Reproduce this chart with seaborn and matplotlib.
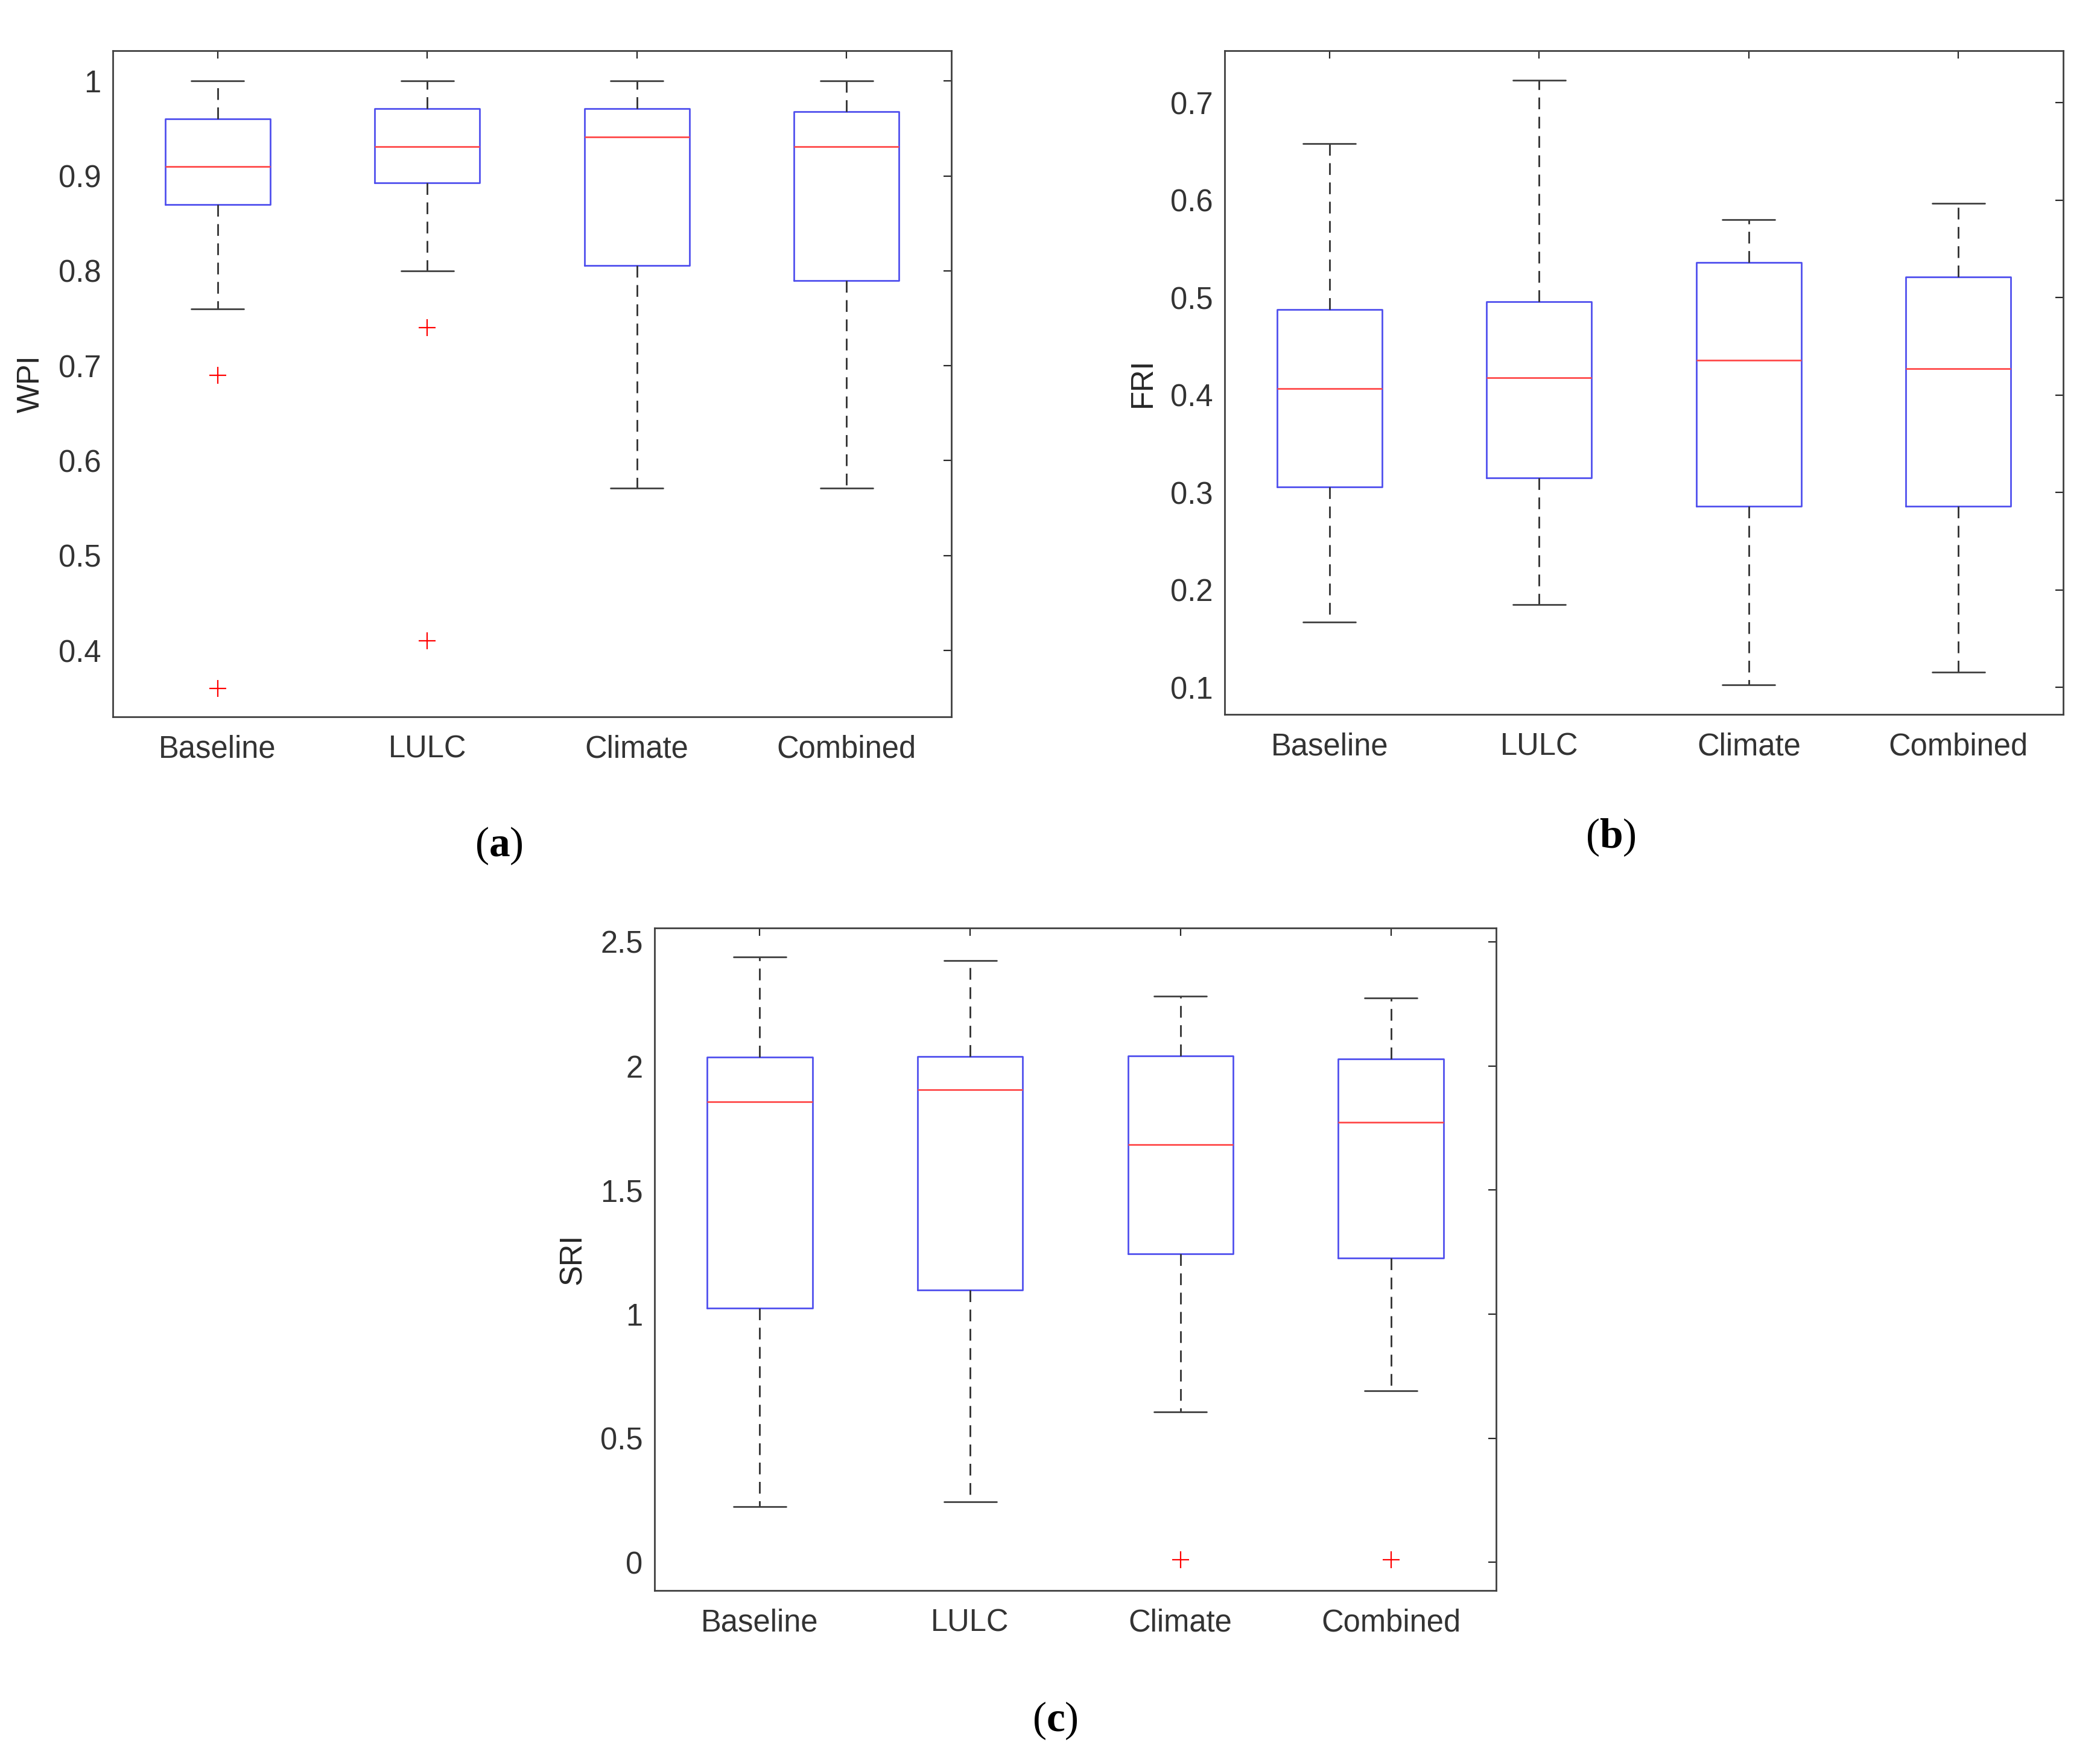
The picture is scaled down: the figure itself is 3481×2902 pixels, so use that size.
import pandas as pd
import matplotlib
matplotlib.use('Agg')
import matplotlib.pyplot as plt
import seaborn as sns

# Escenarios (eje x comun)
categories = ['Baseline', 'LULC', 'Climate', 'Combined']

# (a) WPI: bigote inferior, Q1, mediana, Q3, bigote superior, atipicos
wpi_low = [0.760, 0.800, 0.571, 0.571]
wpi_q1 = [0.870, 0.893, 0.806, 0.790]
wpi_med = [0.910, 0.931, 0.941, 0.931]
wpi_q3 = [0.960, 0.971, 0.971, 0.968]
wpi_high = [1.000, 1.000, 1.000, 1.000]
wpi_out = [[0.69, 0.36], [0.74, 0.41], [], []]

# (b) FRI
fri_low = [0.167, 0.185, 0.103, 0.116]
fri_q1 = [0.306, 0.315, 0.286, 0.286]
fri_med = [0.407, 0.418, 0.436, 0.427]
fri_q3 = [0.488, 0.496, 0.536, 0.521]
fri_high = [0.658, 0.723, 0.580, 0.597]
fri_out = [[], [], [], []]

# (c) SRI
sri_low = [0.224, 0.244, 0.605, 0.691]
sri_q1 = [1.025, 1.097, 1.242, 1.226]
sri_med = [1.855, 1.905, 1.684, 1.774]
sri_q3 = [2.036, 2.038, 2.041, 2.027]
sri_high = [2.439, 2.423, 2.281, 2.274]
sri_out = [[], [], [0.01], [0.01]]


def long_frame(low, q1, med, q3, high, out):
    # muestra minima que reproduce exactamente los cuartiles leidos
    rows = []
    for cat, lo, a, m, b, hi, o in zip(categories, low, q1, med, q3, high, out):
        vals = list(o) + [lo] + [a] * 5 + [m] * 5 + [b] * 5 + [hi]
        rows += [(cat, v) for v in vals]
    return pd.DataFrame(rows, columns=['scenario', 'value'])


sns.set_theme(style='white')
plt.rcParams['font.family'] = ['Liberation Sans', 'DejaVu Sans']
plt.rcParams['mathtext.fontset'] = 'custom'
plt.rcParams['mathtext.rm'] = 'Liberation Serif'
plt.rcParams['mathtext.bf'] = 'Liberation Serif:bold'

fig = plt.figure(figsize=(34.81, 29.02), dpi=100)

panels = [
    dict(rect=[0.0537, 0.5906, 0.3993, 0.3804],
         df=long_frame(wpi_low, wpi_q1, wpi_med, wpi_q3, wpi_high, wpi_out),
         ylabel='WPI', ylim=(0.33, 1.032),
         yticks=[0.4, 0.5, 0.6, 0.7, 0.8, 0.9, 1.0],
         tag='a', tagpos=(0.2376, 0.5169)),
    dict(rect=[0.5832, 0.5920, 0.3993, 0.3790],
         df=long_frame(fri_low, fri_q1, fri_med, fri_q3, fri_high, fri_out),
         ylabel='FRI', ylim=(0.0724, 0.7534),
         yticks=[0.1, 0.2, 0.3, 0.4, 0.5, 0.6, 0.7],
         tag='b', tagpos=(0.767, 0.5217)),
    dict(rect=[0.3117, 0.0917, 0.4007, 0.3784],
         df=long_frame(sri_low, sri_q1, sri_med, sri_q3, sri_high, sri_out),
         ylabel='SRI', ylim=(-0.113, 2.556),
         yticks=[0, 0.5, 1, 1.5, 2, 2.5],
         tag='c', tagpos=(0.5024, 0.0172)),
]

box_blue = '#5050ee'
dark = '#262626'

for p in panels:
    ax = fig.add_axes(p['rect'])
    sns.boxplot(data=p['df'], x='scenario', y='value', order=categories,
                ax=ax, width=0.5, fill=False, linewidth=2,
                boxprops=dict(color=box_blue, linewidth=2),
                medianprops=dict(color='#ff4a4a', linewidth=2),
                whiskerprops=dict(color='#303030', linewidth=2,
                                  linestyle=(0, (7, 4.5))),
                capprops=dict(color='#404040', linewidth=2),
                flierprops=dict(marker='+', markeredgecolor='red',
                                markersize=20, markeredgewidth=1.6))
    ax.set_xlim(-0.5, 3.5)
    ax.set_ylim(*p['ylim'])
    ax.set_yticks(p['yticks'])
    ax.set_yticklabels(['%g' % v for v in p['yticks']])
    ax.set_xlabel('')
    ax.set_ylabel(p['ylabel'], fontsize=36.5, color=dark, labelpad=15)
    ax.tick_params(axis='both', direction='in', length=9.5, width=1.6,
                   color=dark, labelcolor='#333333', labelsize=36.5,
                   top=True, right=True)
    ax.tick_params(axis='y', pad=14)
    ax.tick_params(axis='x', pad=21)
    for sp in ax.spines.values():
        sp.set_visible(True)
        sp.set_color('#404040')
        sp.set_linewidth(2)
    fig.text(p['tagpos'][0], p['tagpos'][1], r'($\mathbf{%s}$)' % p['tag'],
             fontsize=50, family='Liberation Serif', color='black',
             ha='center', va='center')

fig.savefig('out.png', dpi=100)
